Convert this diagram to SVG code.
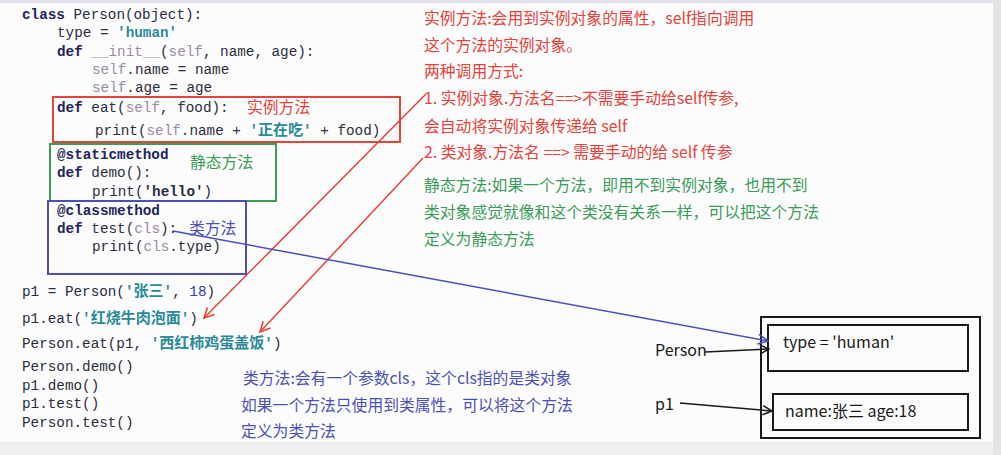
<svg xmlns="http://www.w3.org/2000/svg" width="1001" height="455" viewBox="0 0 1001 455">
<style>
.code{font-family:"Liberation Mono","DejaVu Sans Mono","Noto Sans CJK SC",monospace;font-size:14.3px;fill:#2a2d3e}
.kw{fill:#1c2560;font-weight:bold}
.sf{fill:#9a8aa2}
.st{fill:#2a8a98;font-weight:bold}
.num{fill:#3040b0}
.cj{font-family:"Noto Sans CJK SC",sans-serif;font-size:15px}
.note{font-family:"Noto Sans CJK SC","Noto Sans",sans-serif;font-size:15.8px}
.lbl{font-family:"Noto Sans CJK SC","Noto Sans",sans-serif;font-size:16px}
.red{fill:#e5423a}
.green{fill:#3a9c58}
.blue{fill:#4a50b8}
.blk{fill:#1a1a1a}
.box{fill:none;stroke-width:2}
</style>
<defs>
<marker id="ar" viewBox="0 0 12 12" refX="11" refY="6" markerWidth="12" markerHeight="12" markerUnits="userSpaceOnUse" orient="auto"><path d="M1,1 L11,6 L1,11" fill="none" stroke="#e5423a" stroke-width="1.6"/></marker>
<marker id="ab" viewBox="0 0 12 12" refX="11" refY="6" markerWidth="12" markerHeight="12" markerUnits="userSpaceOnUse" orient="auto"><path d="M1,1 L11,6 L1,11" fill="none" stroke="#4a50b8" stroke-width="1.6"/></marker>
<marker id="ak" viewBox="0 0 12 12" refX="11" refY="6" markerWidth="11" markerHeight="11" markerUnits="userSpaceOnUse" orient="auto"><path d="M1,1 L11,6 L1,11" fill="none" stroke="#1a1a1a" stroke-width="1.6"/></marker>
</defs>
<rect x="0" y="0" width="1001" height="455" fill="#fcfcfc"/>
<rect x="0" y="0" width="1001" height="3" fill="#dfe3ea"/>
<rect x="0" y="442" width="1001" height="13" fill="#efefef"/>
<rect x="993" y="0" width="8" height="455" fill="#e4e4e4"/>

<g id="code">
<text class="code" x="22" y="19"><tspan class="kw">class</tspan> Person(object):</text>
<text class="code" x="57" y="37">type = <tspan class="st">'human'</tspan></text>
<text class="code" x="57" y="56"><tspan class="kw">def</tspan> <tspan class="sf">__init__</tspan>(<tspan class="sf">self</tspan>, name, age):</text>
<text class="code" x="92" y="74"><tspan class="sf">self</tspan>.name = name</text>
<text class="code" x="92" y="92"><tspan class="sf">self</tspan>.age = age</text>
<text class="code" x="57" y="112"><tspan class="kw">def</tspan> eat(<tspan class="sf">self</tspan>, food):</text>
<text class="code" x="95" y="135">print(<tspan class="sf">self</tspan>.name + <tspan class="st">'<tspan class="cj">正在吃</tspan>'</tspan> + food)</text>
<text class="code" x="57" y="159"><tspan class="kw">@staticmethod</tspan></text>
<text class="code" x="57" y="177"><tspan class="kw">def</tspan> demo():</text>
<text class="code" x="92" y="196">print(<tspan font-weight="bold">'hello'</tspan>)</text>
<text class="code" x="57" y="215"><tspan class="kw">@classmethod</tspan></text>
<text class="code" x="57" y="233"><tspan class="kw">def</tspan> test(<tspan class="sf">cls</tspan>):</text>
<text class="code" x="92" y="251">print(<tspan class="sf">cls</tspan>.type)</text>
<text class="code" x="22" y="296">p1 = Person(<tspan class="st">'<tspan class="cj">张三</tspan>'</tspan>, <tspan class="num">18</tspan>)</text>
<text class="code" x="22" y="323">p1.eat(<tspan class="st">'<tspan class="cj">红烧牛肉泡面</tspan>'</tspan>)</text>
<text class="code" x="22" y="348">Person.eat(p1, <tspan class="st">'<tspan class="cj">西红柿鸡蛋盖饭</tspan>'</tspan>)</text>
<text class="code" x="22" y="371">Person.demo()</text>
<text class="code" x="22" y="390">p1.demo()</text>
<text class="code" x="22" y="408">p1.test()</text>
<text class="code" x="22" y="427">Person.test()</text>
</g>

<g id="instance-method">
<rect class="box" x="53" y="97" width="347" height="45" stroke="#e5423a"/>
<text class="note red" x="247" y="113">实例方法</text>
</g>
<g id="static-method">
<rect class="box" x="50" y="144" width="226" height="57" stroke="#3a9c58"/>
<text class="note green" x="190" y="168">静态方法</text>
</g>
<g id="class-method">
<rect class="box" x="48" y="201" width="198" height="73" stroke="#4a50b8"/>
<text class="note blue" x="189" y="234">类方法</text>
</g>

<g id="instance-note" class="note red">
<text x="424" y="24">实例方法:会用到实例对象的属性，self指向调用</text>
<text x="424" y="51">这个方法的实例对象。</text>
<text x="424" y="77">两种调用方式:</text>
<text x="424" y="104">1. 实例对象.方法名==&gt;不需要手动给self传参,</text>
<text x="424" y="132">会自动将实例对象传递给 self</text>
<text x="424" y="158">2. 类对象.方法名 ==&gt; 需要手动的给 self 传参</text>
</g>
<g id="static-note" class="note green">
<text x="424" y="191">静态方法:如果一个方法，即用不到实例对象，也用不到</text>
<text x="424" y="218">类对象感觉就像和这个类没有关系一样，可以把这个方法</text>
<text x="424" y="245">定义为静态方法</text>
</g>
<g id="class-note" class="note blue">
<text x="243" y="384">类方法:会有一个参数cls，这个cls指的是类对象</text>
<text x="241" y="411">如果一个方法只使用到类属性，可以将这个方法</text>
<text x="241" y="437">定义为类方法</text>
</g>

<g id="memory">
<rect class="box" x="761" y="317" width="219" height="121" stroke="#1a1a1a"/>
<g id="class-obj">
<rect class="box" x="768" y="325" width="200" height="46" stroke="#1a1a1a"/>
<text class="lbl blk" x="783" y="348">type = 'human'</text>
</g>
<g id="inst-obj">
<rect class="box" x="773" y="394" width="195" height="36" stroke="#1a1a1a"/>
<text class="lbl blk" x="785" y="417">name:张三 age:18</text>
</g>
</g>
<g id="label-person"><text class="lbl blk" x="655" y="356">Person</text></g>
<g id="label-p1"><text class="lbl blk" x="655" y="410">p1</text></g>

<g id="connectors" fill="none" stroke-width="1.5">
<line x1="426" y1="94" x2="204" y2="318" stroke="#e5423a" marker-end="url(#ar)"/>
<line x1="423" y1="158" x2="260" y2="332" stroke="#e5423a" marker-end="url(#ar)"/>
<line x1="173" y1="231" x2="768" y2="341" stroke="#4a50b8" marker-end="url(#ab)"/>
<line x1="705" y1="352" x2="769" y2="349" stroke="#1a1a1a" marker-end="url(#ak)"/>
<line x1="680" y1="403" x2="772" y2="411" stroke="#1a1a1a" marker-end="url(#ak)"/>
</g>
</svg>
